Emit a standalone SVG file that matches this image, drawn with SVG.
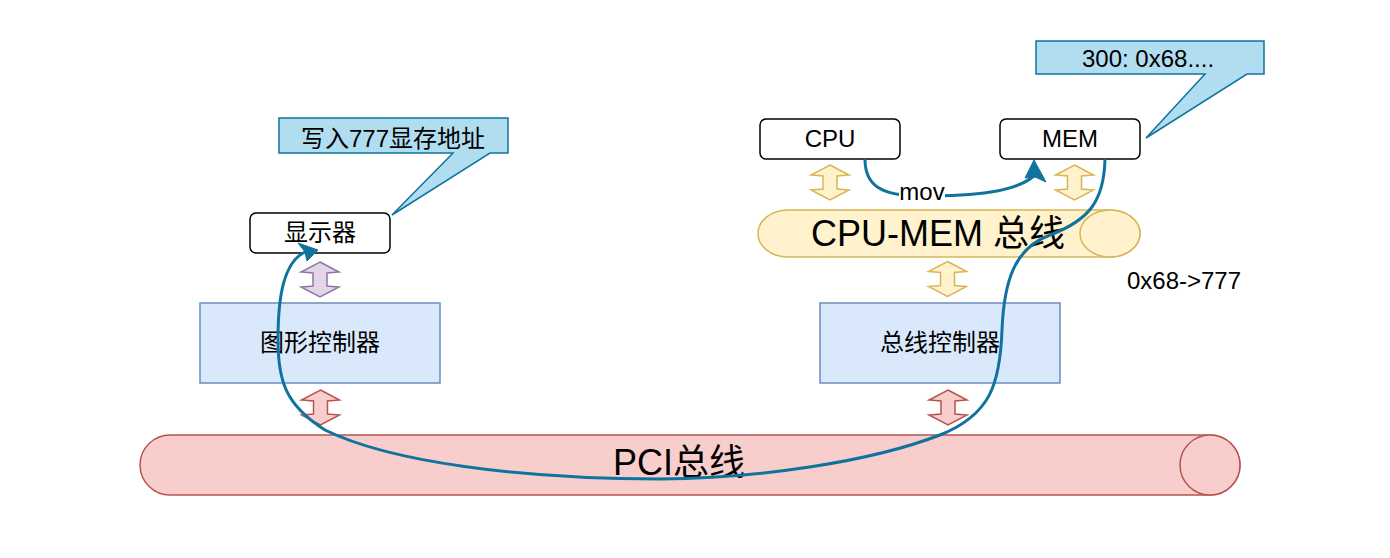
<svg xmlns="http://www.w3.org/2000/svg" xmlns:xlink="http://www.w3.org/1999/xlink" width="1390" height="558" viewBox="0 0 1390 558">
<style>
text{font-family:"Liberation Sans","Noto Sans CJK SC",sans-serif;fill:#000;text-anchor:middle}
.s{font-size:24px}
.b{font-size:36px}
.box{fill:#fff;stroke:#000;stroke-width:1.5}
.blue{fill:#dae8fc;stroke:#6c8ebf;stroke-width:1.5}
.call{fill:#b1ddf0;stroke:#10739e;stroke-width:1.5}
.red{fill:#f8cecc;stroke:#b85450;stroke-width:1.5}
.yel{fill:#fff2cc;stroke:#d6b656;stroke-width:1.5}
.pur{fill:#e1d5e7;stroke:#9673a6;stroke-width:1.5}
.wire{fill:none;stroke:#10739e;stroke-width:3}
.head{fill:#10739e;stroke:#10739e;stroke-width:1}
</style>
<defs>
<path id="dbl" d="M0,-17.5 L19,-7.5 L7,-6.5 L7,6.5 L19,7.5 L0,17.5 L-19,7.5 L-7,6.5 L-7,-6.5 L-19,-7.5 Z"/>
</defs>
<rect width="1390" height="558" fill="#fff"/>

<g id="pci-bus">
<path class="red" d="M170,435 H1210 A30,30 0 0 1 1210,495 H170 A30,30 0 0 1 170,435 Z"/>
<circle class="red" cx="1210" cy="465" r="30"/>
<text class="b" x="679" y="475">PCI总线</text>
</g>

<g id="cpu-mem-bus">
<path class="yel" d="M788,210 H1110 A30,23.5 0 0 1 1110,257 H788 A30,23.5 0 0 1 788,210 Z"/>
<ellipse class="yel" cx="1110" cy="233.5" rx="30" ry="23.5"/>
<text class="b" x="938" y="246">CPU-MEM 总线</text>
</g>

<g id="cpu">
<rect class="box" x="760" y="119" width="140" height="40" rx="6"/>
<text class="s" x="830" y="147">CPU</text>
</g>

<g id="mem">
<rect class="box" x="1000" y="119" width="140" height="40" rx="6"/>
<text class="s" x="1070" y="147">MEM</text>
</g>

<g id="callout-mem">
<path class="call" d="M1036,41 H1264 V74 H1247 L1146,138 L1205,74 H1036 Z"/>
<text class="s" x="1148" y="67">300: 0x68....</text>
</g>

<g id="callout-display">
<path class="call" d="M279,118 H508 V153 H490 L392,215 L453,153 H279 Z"/>
<text class="s" x="393" y="147">写入777显存地址</text>
</g>

<g id="display">
<rect class="box" x="250" y="213" width="140" height="40" rx="6"/>
<text class="s" x="320" y="241">显示器</text>
</g>

<g id="graphics-controller">
<rect class="blue" x="200" y="303" width="240" height="80"/>
<text class="s" x="320" y="351">图形控制器</text>
</g>

<g id="bus-controller">
<rect class="blue" x="820" y="303" width="240" height="80"/>
<text class="s" x="940" y="351">总线控制器</text>
</g>

<g id="label-addr">
<text class="s" x="1184" y="289">0x68-&gt;777</text>
</g>

<g id="bus-links">
<use xlink:href="#dbl" class="pur" transform="translate(320,279.5)"/>
<use xlink:href="#dbl" class="red" transform="translate(320.5,407.5)"/>
<use xlink:href="#dbl" class="red" transform="translate(948,407.5)"/>
<use xlink:href="#dbl" class="yel" transform="translate(830,182.5)"/>
<use xlink:href="#dbl" class="yel" transform="translate(1074.5,182.5)"/>
<use xlink:href="#dbl" class="yel" transform="translate(947.5,279)"/>
</g>

<g id="connectors">
<path class="wire" d="M865,159 C865,185 880,196 922,196 C975,196 1015,192 1034,176"/>
<polygon class="head" points="1034,160 1046,182 1035,177 1025,178"/>
<path class="wire" d="M1105,159 C1104,200 1090,220 1050,235 C1015,248 1004,280 1002,330 C1000,385 990,415 940,435 C870,462 760,478 660,479 C520,479 390,462 325,430 C285,405 278,380 278,340 C278,295 284,262 305,252"/>
<polygon class="head" points="318,250 298,243 305,252 307,261"/>
<rect x="899" y="181" width="46" height="22" fill="#fff"/>
<text class="s" x="922" y="200">mov</text>
</g>
</svg>
